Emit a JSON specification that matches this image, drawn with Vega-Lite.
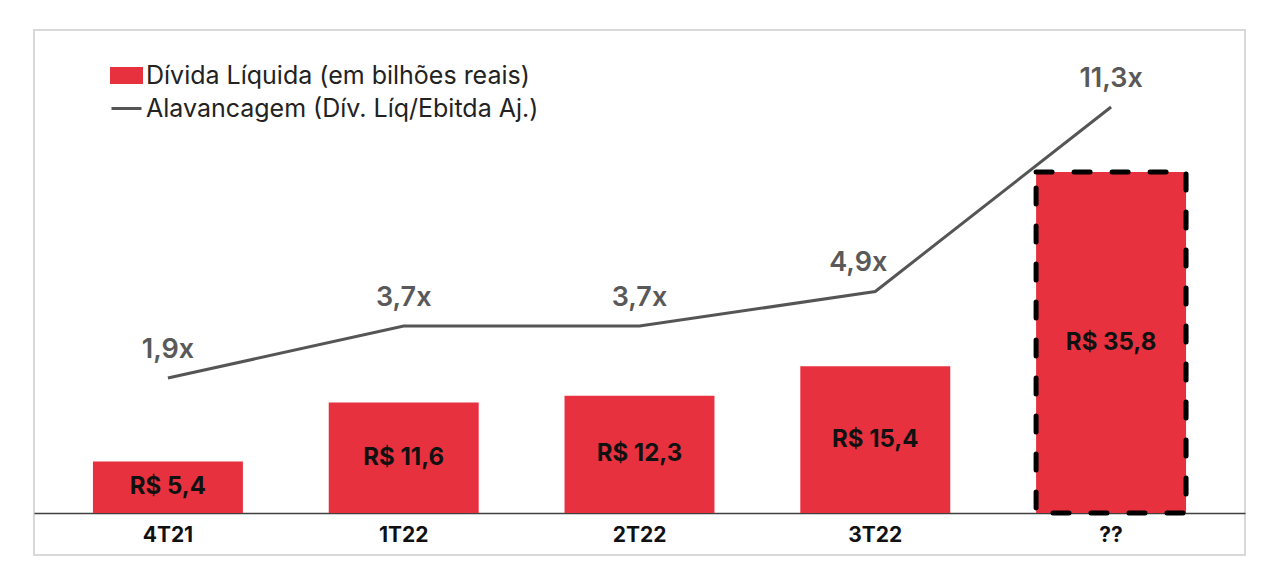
{
  "$schema": "https://vega.github.io/schema/vega-lite/v6.json",
  "width": 1280,
  "height": 586,
  "autosize": {"type": "fit", "contains": "padding"},
  "padding": {"left": 34, "top": 30, "right": 35, "bottom": 31},
  "background": "white",
  "config": {
    "view": {"stroke": "#d9d9d9", "strokeWidth": 2},
    "font": "Inter",
    "legend": {
      "orient": "none", "legendX": 76, "legendY": 29, "title": null, "padding": 0,
      "labelFont": "Inter", "labelFontSize": 25, "labelColor": "#222", "labelOffset": 3, "labelLimit": 700,
      "symbolSize": 900, "rowPadding": 3
    }
  },
  "data": {"values": [
    {"periodo": "4T21", "divida": 5.4, "divida_txt": "R$ 5,4", "alav": 1.9, "alav_txt": "1,9x"},
    {"periodo": "1T22", "divida": 11.6, "divida_txt": "R$ 11,6", "alav": 3.7, "alav_txt": "3,7x"},
    {"periodo": "2T22", "divida": 12.3, "divida_txt": "R$ 12,3", "alav": 3.7, "alav_txt": "3,7x"},
    {"periodo": "3T22", "divida": 15.4, "divida_txt": "R$ 15,4", "alav": 4.9, "alav_txt": "4,9x"},
    {"periodo": "??", "divida": 35.8, "divida_txt": "R$ 35,8", "alav": 11.3, "alav_txt": "11,3x"}
  ]},
  "encoding": {
    "x": {
      "field": "periodo", "type": "nominal", "sort": null,
      "scale": {"paddingInner": 0.364, "paddingOuter": 0.25},
      "axis": {
        "title": null, "labelAngle": 0, "offset": -42, "ticks": false,
        "domainColor": "#404040", "domainWidth": 1.5,
        "labelFont": "Inter", "labelFontSize": 21, "labelFontWeight": "bold",
        "labelColor": "#111", "labelPadding": 11
      }
    }
  },
  "layer": [
    {
      "layer": [
        {
          "mark": {"type": "bar", "strokeWidth": 5, "strokeDash": [16, 22], "strokeCap": "round"},
          "encoding": {
            "y": {"field": "divida", "type": "quantitative", "scale": {"domain": [-4.41, 50.71], "nice": false, "zero": false}, "axis": null},
            "y2": {"datum": 0},
            "color": {
              "datum": "Dívida Líquida (em bilhões reais)",
              "type": "nominal",
              "scale": {"domain": ["Dívida Líquida (em bilhões reais)", "Alavancagem (Dív. Líq/Ebitda Aj.)"], "range": ["#E8313F", "#555555"]},
              "legend": {
                "encode": {"symbols": {"update": {
                  "shape": {"signal": "datum.value === 'Alavancagem (Dív. Líq/Ebitda Aj.)' ? 'stroke' : 'M-1,-0.47H1V0.47H-1Z'"},
                  "fill": {"signal": "datum.value === 'Alavancagem (Dív. Líq/Ebitda Aj.)' ? 'transparent' : '#E8313F'"},
                  "stroke": {"signal": "datum.value === 'Alavancagem (Dív. Líq/Ebitda Aj.)' ? '#555555' : 'transparent'"},
                  "strokeWidth": {"value": 3},
                  "opacity": {"value": 1}
                }}}
              }
            },
            "stroke": {"condition": {"test": "datum.periodo === '??'", "value": "#000000"}, "value": null}
          }
        },
        {
          "transform": [{"calculate": "datum.divida / 2", "as": "meio"}],
          "mark": {"type": "text", "font": "Inter", "fontSize": 24, "fontWeight": "bold", "color": "#111", "baseline": "middle"},
          "encoding": {
            "y": {"field": "meio", "type": "quantitative", "scale": {"domain": [-4.41, 50.71], "nice": false, "zero": false}, "axis": null},
            "text": {"field": "divida_txt"}
          }
        }
      ]
    },
    {
      "layer": [
        {
          "mark": {"type": "line", "strokeWidth": 3},
          "encoding": {
            "y": {"field": "alav", "type": "quantitative", "scale": {"domain": [-4.24, 13.97], "nice": false, "zero": false}, "axis": null},
            "color": {
              "datum": "Alavancagem (Dív. Líq/Ebitda Aj.)", "type": "nominal",
              "legend": {
                "encode": {"symbols": {"update": {
                  "shape": {"signal": "datum.value === 'Alavancagem (Dív. Líq/Ebitda Aj.)' ? 'stroke' : 'M-1,-0.47H1V0.47H-1Z'"},
                  "fill": {"signal": "datum.value === 'Alavancagem (Dív. Líq/Ebitda Aj.)' ? 'transparent' : '#E8313F'"},
                  "stroke": {"signal": "datum.value === 'Alavancagem (Dív. Líq/Ebitda Aj.)' ? '#555555' : 'transparent'"},
                  "strokeWidth": {"value": 3},
                  "opacity": {"value": 1}
                }}}
              }
            }
          }
        },
        {
          "transform": [{"filter": "datum.periodo !== '3T22'"}],
          "mark": {"type": "text", "font": "Inter", "fontSize": 27, "fontWeight": 600, "color": "#595959", "baseline": "middle", "dy": -28},
          "encoding": {
            "y": {"field": "alav", "type": "quantitative", "scale": {"domain": [-4.24, 13.97], "nice": false, "zero": false}, "axis": null},
            "text": {"field": "alav_txt"}
          }
        },
        {
          "transform": [{"filter": "datum.periodo === '3T22'"}],
          "mark": {"type": "text", "font": "Inter", "fontSize": 27, "fontWeight": 600, "color": "#595959", "baseline": "middle", "dy": -28, "dx": -17},
          "encoding": {
            "y": {"field": "alav", "type": "quantitative", "scale": {"domain": [-4.24, 13.97], "nice": false, "zero": false}, "axis": null},
            "text": {"field": "alav_txt"}
          }
        }
      ]
    }
  ],
  "resolve": {"scale": {"y": "independent"}}
}
